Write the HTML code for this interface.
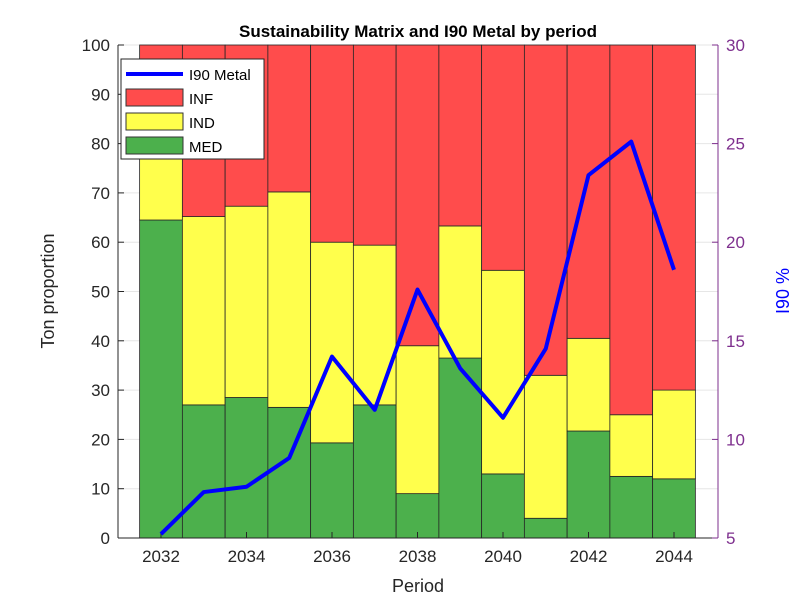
<!DOCTYPE html>
<html><head><meta charset="utf-8"><style>
body{margin:0;background:#fff;}
svg{display:block;font-family:"Liberation Sans",Arial,sans-serif;}
</style></head><body>
<svg id="chart" width="807" height="605" viewBox="0 0 807 605" xmlns="http://www.w3.org/2000/svg">
<rect width="807" height="605" fill="#fff"/>
<text x="418" y="37" text-anchor="middle" font-size="17" font-weight="bold">Sustainability Matrix and I90 Metal by period</text>
<g id="grid"></g>
<g id="bars"></g>
<g id="axes"></g>
<g id="line"></g>
<text x="418" y="592" text-anchor="middle" font-size="18" fill="#262626">Period</text>
<text transform="translate(54,291) rotate(-90)" text-anchor="middle" font-size="18" fill="#262626">Ton proportion</text>
<text transform="translate(789,291) rotate(-90)" text-anchor="middle" font-size="18" fill="#0000ff">I90 %</text>
<g>
<rect x="121" y="59" width="143" height="100" fill="#fff" stroke="#262626" stroke-width="1"/>
<line x1="126" y1="74" x2="183" y2="74" stroke="#0000ff" stroke-width="4"/>
<text x="189" y="80" font-size="15">I90 Metal</text>
<rect x="126" y="89" width="57" height="17" fill="#ff4c4c" stroke="#333"/>
<text x="189" y="104" font-size="15">INF</text>
<rect x="126" y="113" width="57" height="17" fill="#ffff4c" stroke="#333"/>
<text x="189" y="128" font-size="15">IND</text>
<rect x="126" y="137" width="57" height="17" fill="#4cb04c" stroke="#333"/>
<text x="189" y="152" font-size="15">MED</text>
</g>
</svg>
<script>
const periods=[2032,2033,2034,2035,2036,2037,2038,2039,2040,2041,2042,2043,2044];
const med=[64.5,27,28.5,26.5,19.3,27,9,36.5,13,4,21.7,12.5,12];
const ind=[25,38.2,38.8,43.7,40.7,32.4,30,26.8,41.3,29,18.8,12.5,18];
const inf=[10.5,34.8,32.7,29.8,40,40.6,61,36.7,45.7,67,59.5,75,70];
const i90=[5.2,7.33,7.6,9.06,14.2,11.5,17.6,13.6,11.1,14.6,23.4,25.1,18.6];
const yTicks=[0,10,20,30,40,50,60,70,80,90,100];
const y2Ticks=[5,10,15,20,25,30];
const xTicks=[2032,2034,2036,2038,2040,2042,2044];
const L=118,R=718,T=45,B=538;
const x=v=>161+(v-2032)*42.75;
const y=v=>B-(v/100)*(B-T);
const y2=v=>B-((v-5)/25)*(B-T);
const NS="http://www.w3.org/2000/svg";
function mk(tag,attrs,parent){const e=document.createElementNS(NS,tag);for(const k in attrs)e.setAttribute(k,attrs[k]);parent.appendChild(e);return e;}
const grid=document.getElementById('grid'),bars=document.getElementById('bars'),axes=document.getElementById('axes'),line=document.getElementById('line');
yTicks.forEach(t=>{const g=mk('line',{x1:L,x2:R,y1:y(t),y2:y(t),stroke:'#e6e6e6','stroke-width':1},grid);

});
const bw=42.75;
periods.forEach((p,i)=>{
 const segs=[[0,med[i],'#4cb04c','med'],[med[i],med[i]+ind[i],'#ffff4c','ind'],[med[i]+ind[i],med[i]+ind[i]+inf[i],'#ff4c4c','inf']];
 segs.forEach(s=>{const r=mk('rect',{x:x(p)-bw/2,y:y(s[1]),width:bw,height:y(s[0])-y(s[1]),fill:s[2],stroke:'#262626','stroke-width':0.8},bars);
 
 });
});
mk('rect',{x:L,y:T,width:R-L,height:B-T,fill:'none',stroke:'none'},axes);
const ax=mk('line',{x1:L,x2:L,y1:T,y2:B,stroke:'#262626'},axes);


const ax2=mk('line',{x1:R,x2:R,y1:T,y2:B,stroke:'#7e2f8e'},axes);


const axx=mk('line',{x1:L,x2:R,y1:B,y2:B,stroke:'#262626'},axes);


yTicks.forEach(t=>{mk('line',{x1:L,x2:L+6,y1:y(t),y2:y(t),stroke:'#262626'},axes);
 const tx=mk('text',{x:L-8,y:y(t)+6,'text-anchor':'end','font-size':17,fill:'#262626'},axes);tx.textContent=t;
 
 });
y2Ticks.forEach(t=>{mk('line',{x1:R-6,x2:R,y1:y2(t),y2:y2(t),stroke:'#7e2f8e'},axes);
 const tx=mk('text',{x:R+8,y:y2(t)+6,'font-size':17,fill:'#7e2f8e'},axes);tx.textContent=t;
 
 });
xTicks.forEach(t=>{mk('line',{x1:x(t),x2:x(t),y1:B,y2:B-6,stroke:'#262626'},axes);
 const tx=mk('text',{x:x(t),y:B+24,'text-anchor':'middle','font-size':17,fill:'#262626'},axes);tx.textContent=t;
 
 });
const pl=mk('polyline',{points:periods.map((p,i)=>x(p)+','+y2(i90[i])).join(' '),fill:'none',stroke:'#0000ff','stroke-width':4,'stroke-linejoin':'round'},line);


</script>
</body></html>
